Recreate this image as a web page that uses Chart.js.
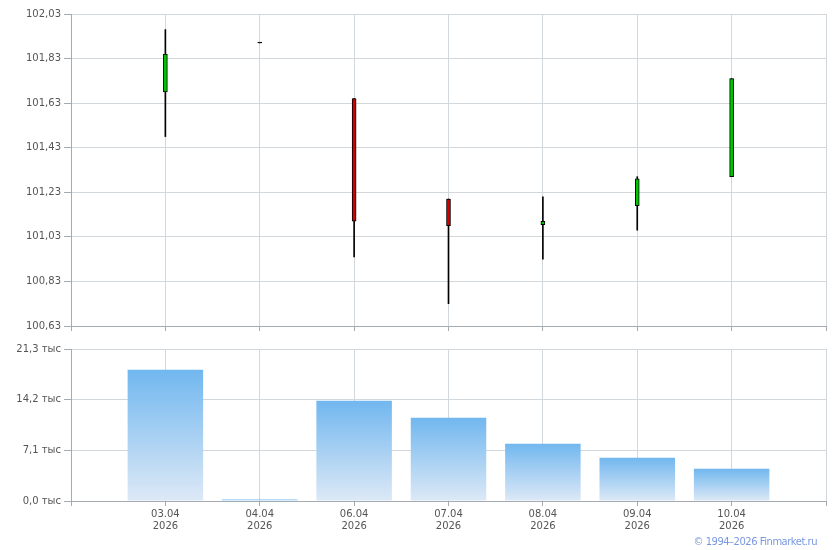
<!DOCTYPE html>
<html>
<head>
<meta charset="utf-8">
<script src="https://cdn.jsdelivr.net/npm/chart.js@4/dist/chart.umd.min.js"></script>
<style>
  body { margin: 0; background: #fff; }
  #wrap { position: relative; width: 840px; height: 550px; }
  #priceBox { position: absolute; left: 0; top: 0; width: 840px; height: 340px; }
  #volBox { position: absolute; left: 0; top: 330px; width: 840px; height: 210px; }
  #copy { position: absolute; right: 23px; top: 536px; font: 10px "DejaVu Sans", Verdana, sans-serif; letter-spacing: -0.5px; color: #7a98e0; white-space: nowrap; }
</style>
</head>
<body>
<div id="wrap">
  <div id="priceBox"><canvas id="priceChart"></canvas></div>
  <div id="volBox"><canvas id="volChart"></canvas></div>
  <div id="copy">© 1994–2026 Finmarket.ru</div>
</div>
<script>
// slots: empty at both ends so the grid has a line at each edge
const dates = ['', ['03.04', '2026'], ['04.04', '2026'], ['06.04', '2026'], ['07.04', '2026'],
  ['08.04', '2026'], ['09.04', '2026'], ['10.04', '2026'], ''];

const opens  = [null, 101.68, 101.90, 101.65, 101.20, 101.085, 101.17, 101.30, null];
const highs  = [null, 101.96, 101.90, 101.65, 101.20, 101.21, 101.30, 101.74, null];
const lows   = [null, 101.48, 101.90, 100.94, 100.73, 100.93, 101.06, 101.30, null];
const closes = [null, 101.85, 101.90, 101.10, 101.08, 101.10, 101.29, 101.74, null];

const volumes = [null, 18.4, 0.2, 14.05, 11.67, 8.03, 6.07, 4.52, null]; // тыс

const priceTicks = [100.63, 100.83, 101.03, 101.23, 101.43, 101.63, 101.83, 102.03];
const volTicks = [0, 7.1, 14.2, 21.3];

const font = { family: '"DejaVu Sans", Verdana, sans-serif', size: 10 };
const textColor = '#555';
const gridColor = '#d2d7dc';
const axisColor = '#a5abb3';

const fmt = v => v.toFixed(2).replace('.', ',');

const wicks = opens.map((o, i) => o === null ? null : [lows[i], highs[i]]);
const bodies = opens.map((o, i) => o === null ? null : [o, closes[i]]);
const bodyColors = opens.map((o, i) => {
  if (o === null) return '#000';
  if (closes[i] === o) return '#000';
  return closes[i] < o ? '#d40000' : '#00c400';
});

function xScale(showLabels, height) {
  return {
    type: 'category',
    offset: false,
    grid: { color: gridColor, tickColor: axisColor, tickLength: 5, offset: false },
    border: { color: axisColor },
    ticks: {
      font: font, color: textColor, autoSkip: false, maxRotation: 0, padding: 2,
      callback: function (v, i) { return showLabels ? dates[i] : ''; }
    },
    afterFit: s => { s.height = height; }
  };
}

new Chart(document.getElementById('priceChart'), {
  type: 'bar',
  data: {
    labels: dates,
    datasets: [
      { data: wicks, backgroundColor: '#000', barThickness: 1, grouped: false, order: 2 },
      { data: bodies, backgroundColor: bodyColors, borderColor: '#000', borderWidth: 1,
        borderSkipped: false, barThickness: 4, minBarLength: 1, grouped: false, order: 1 }
    ]
  },
  options: {
    responsive: true, maintainAspectRatio: false, animation: false,
    layout: { padding: { top: 14, right: 14, left: 0, bottom: 0 } },
    plugins: { legend: { display: false }, tooltip: { enabled: false } },
    scales: {
      x: xScale(false, 14),
      y: {
        min: 100.63, max: 102.03,
        afterBuildTicks: s => { s.ticks = priceTicks.map(v => ({ value: v })); },
        afterFit: s => { s.width = 71; },
        grid: { color: gridColor, tickColor: axisColor, tickLength: 7 },
        border: { color: axisColor },
        ticks: { font: font, color: textColor, padding: 3, callback: v => fmt(v) }
      }
    }
  }
});

function barGradient(ctx) {
  const chart = ctx.chart;
  const v = ctx.raw;
  if (v === null || v === undefined || !chart.scales.y) return '#8cc4f0';
  const y = chart.scales.y;
  const top = y.getPixelForValue(v);
  const bottom = y.getPixelForValue(0);
  if (!isFinite(top) || !isFinite(bottom) || bottom - top < 1) return '#7ab9ee';
  const g = chart.ctx.createLinearGradient(0, top, 0, bottom);
  g.addColorStop(0, '#71b7ef');
  g.addColorStop(1, '#dde9f6');
  return g;
}

new Chart(document.getElementById('volChart'), {
  type: 'bar',
  data: {
    labels: dates,
    datasets: [
      { data: volumes, backgroundColor: barGradient, barPercentage: 0.8, categoryPercentage: 1 }
    ]
  },
  options: {
    responsive: true, maintainAspectRatio: false, animation: false,
    layout: { padding: { top: 19, right: 14, left: 0, bottom: 0 } },
    plugins: { legend: { display: false }, tooltip: { enabled: false } },
    scales: {
      x: xScale(true, 39),
      y: {
        min: 0, max: 21.3,
        afterBuildTicks: s => { s.ticks = volTicks.map(v => ({ value: v })); },
        afterFit: s => { s.width = 71; },
        grid: { color: gridColor, tickColor: axisColor, tickLength: 7 },
        border: { color: axisColor },
        ticks: { font: font, color: textColor, padding: 3, callback: v => v.toFixed(1).replace('.', ',') + ' тыс' }
      }
    }
  }
});
</script>
</body>
</html>
